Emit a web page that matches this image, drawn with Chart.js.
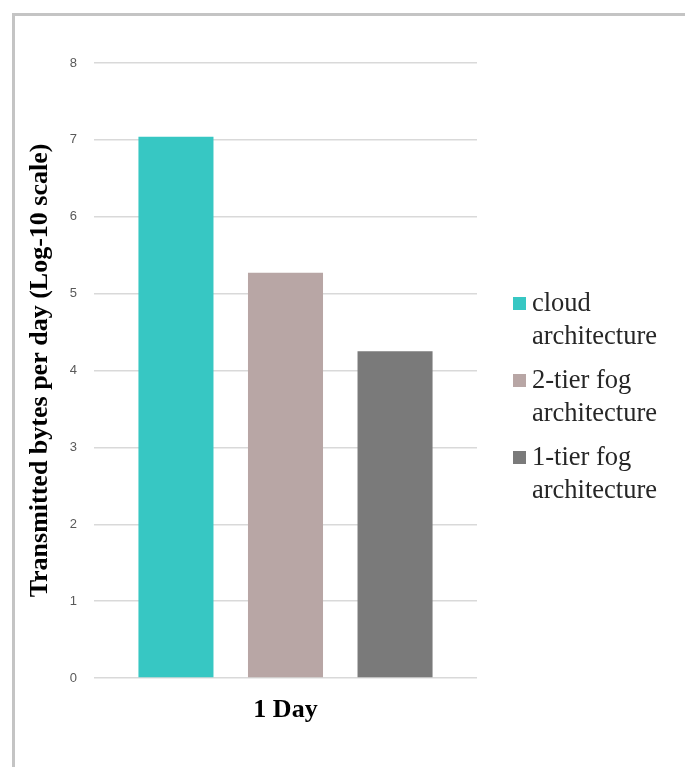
<!DOCTYPE html>
<html>
<head>
<meta charset="utf-8">
<script src="https://cdn.jsdelivr.net/npm/chart.js@4"></script>
<style>
  html, body { margin: 0; padding: 0; background: #fff; }
  #wrap { position: relative; width: 685px; height: 767px; overflow: hidden; }
  #frame { position: absolute; left: 12px; top: 13px; width: 700px; height: 800px;
           border-top: 3px solid #c4c4c4; border-left: 3px solid #c4c4c4; }
  #legend { position: absolute; left: 513px; top: 286px; font-family: "Liberation Serif", "Times New Roman", serif;
            font-size: 26.5px; color: #262626; line-height: 33px; }
  .item { position: relative; padding-left: 19px; margin-bottom: 11px; }
  .sw { position: absolute; left: 0; top: 11px; width: 13px; height: 13px; }
</style>
</head>
<body>
<div id="wrap">
  <div id="frame"></div>
  <canvas id="chart" width="685" height="767"></canvas>
  <div id="legend"></div>
</div>
<script>
// data
const categories = ['1 Day'];
const seriesNames = [['cloud', 'architecture'], ['2-tier fog', 'architecture'], ['1-tier fog', 'architecture']];
const cloudValues = [7.04];
const twoTierValues = [5.27];
const oneTierValues = [4.25];
const seriesColors = ['#37c7c3', '#b8a6a5', '#7a7a7a'];
const yTicks = [0, 1, 2, 3, 4, 5, 6, 7, 8];

const seriesValues = [cloudValues, twoTierValues, oneTierValues];

const ctx = document.getElementById('chart').getContext('2d');
const chart = new Chart(ctx, {
    type: 'bar',
    data: {
        labels: categories,
        datasets: seriesValues.map((vals, i) => ({
            label: seriesNames[i].join(' '),
            data: vals,
            backgroundColor: seriesColors[i],
            borderWidth: 0,
            categoryPercentage: 0.858,
            barPercentage: 0.685,
        })),
    },
    options: {
        responsive: false,
        animation: false,
        layout: { padding: { left: 14, top: 63, right: 208, bottom: 20 } },
        plugins: { legend: { display: false }, tooltip: { enabled: false } },
        scales: {
            x: {
                grid: { display: false },
                border: { display: false },
                ticks: { color: '#000', padding: 9, font: { family: 'Liberation Serif', size: 26, weight: 'bold' } },
                afterFit: (s) => { s.height = 69; },
            },
            y: {
                min: 0, max: 8,
                afterBuildTicks: (s) => { s.ticks = yTicks.map(v => ({ value: v })); },
                grid: { color: '#d9d9d9', lineWidth: 1.5, drawTicks: false },
                border: { display: false },
                ticks: { color: '#595959', padding: 17, font: { family: 'Liberation Sans', size: 13 } },
                title: {
                    display: true,
                    text: 'Transmitted bytes per day (Log-10 scale)',
                    color: '#000',
                    padding: { top: 11, bottom: 0 },
                    font: { family: 'Liberation Serif', size: 26, weight: 'bold' },
                },
                afterFit: (s) => { s.width = 80; },
            },
        },
    },
});

// legend with two-line labels, like the original
const legend = document.getElementById('legend');
seriesNames.forEach((lines, i) => {
    const item = document.createElement('div');
    item.className = 'item';
    item.innerHTML = '<span class="sw" style="background:' + seriesColors[i] + '"></span>' + lines.join('<br>');
    legend.appendChild(item);
});
</script>
</body>
</html>
